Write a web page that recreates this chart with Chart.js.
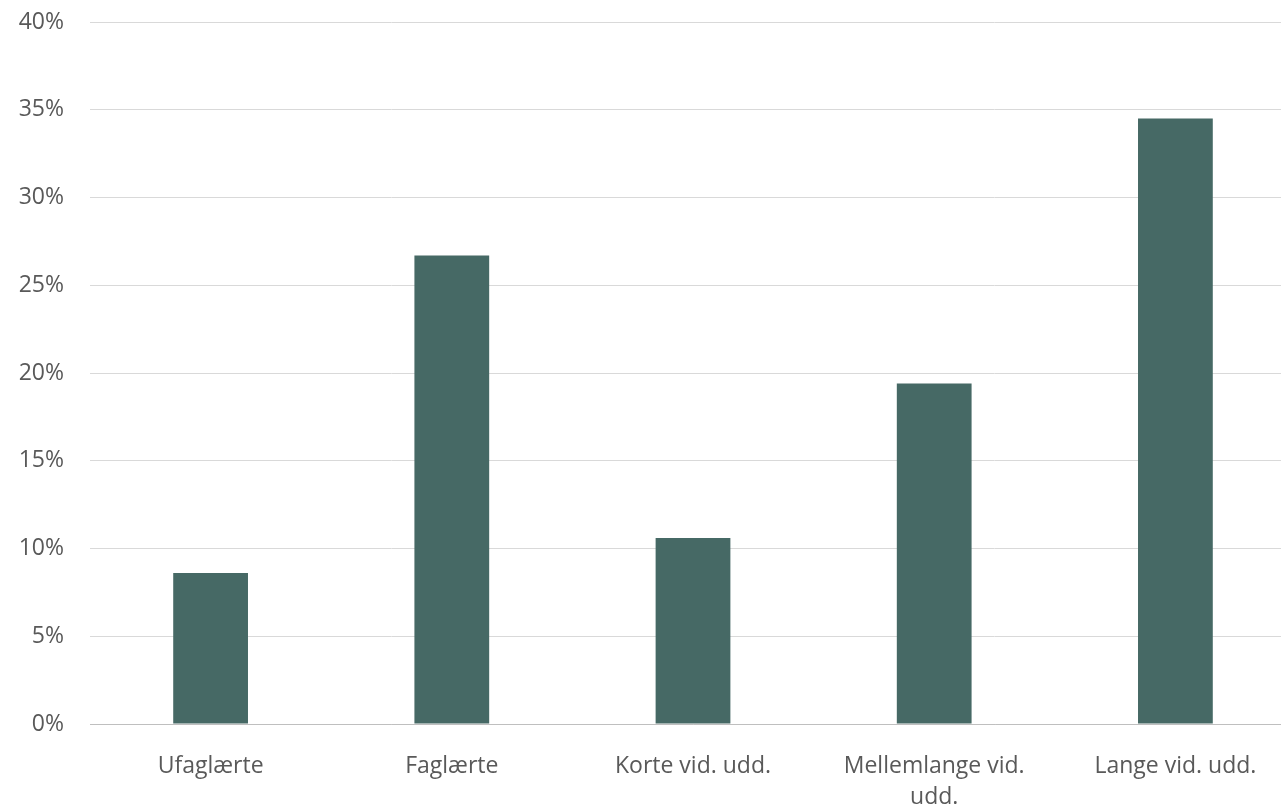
<!DOCTYPE html>
<html>
<head>
<meta charset="utf-8">
<script src="https://cdn.jsdelivr.net/npm/chart.js@4"></script>
<style>
  html, body { margin: 0; padding: 0; background: #fff; overflow: hidden; }
  #wrap { position: absolute; left: 0; top: 0; width: 1296px; height: 810px; }
</style>
</head>
<body>
<div id="wrap"><canvas id="myChart"></canvas></div>
<script>
// kategorier og andele (%)
var categories = ['Ufaglærte', 'Faglærte', 'Korte vid. udd.', ['Mellemlange vid.', 'udd.'], 'Lange vid. udd.'];
var shares = [8.6, 26.7, 10.6, 19.4, 34.5];
var yTicks = [0, 5, 10, 15, 20, 25, 30, 35, 40];

var textColor = '#595959';
var font = { family: '"Open Sans", "Noto Sans", sans-serif', size: 23, lineHeight: 1.36 };

var ctx = document.getElementById('myChart').getContext('2d');
var chart = new Chart(ctx, {
    type: 'bar',
    data: {
        labels: categories,
        datasets: [{
            label: 'Andel',
            backgroundColor: '#466965',
            borderWidth: 0,
            data: shares,
            barPercentage: 1,
            categoryPercentage: 0.31
        }]
    },
    options: {
        responsive: true,
        maintainAspectRatio: false,
        animation: false,
        layout: { padding: 0 },
        plugins: {
            legend: { display: false },
            tooltip: { enabled: false }
        },
        scales: {
            x: {
                afterFit: function(scale) { scale.height = 86; },
                grid: { display: false },
                border: { color: '#bfbfbf', width: 1 },
                ticks: { color: textColor, font: font, padding: 19, maxRotation: 0 }
            },
            y: {
                min: 0,
                max: 40,
                afterBuildTicks: function(scale) {
                    scale.ticks = yTicks.map(function(v) { return { value: v }; });
                },
                afterFit: function(scale) {
                    scale.width = 90;
                    scale.paddingTop = 22;
                    scale.paddingBottom = 0;
                },
                grid: { color: '#d9d9d9', drawTicks: false },
                border: { display: false },
                ticks: {
                    color: textColor,
                    font: font,
                    padding: 26,
                    callback: function(v) { return v + '%'; }
                }
            }
        }
    }
});
</script>
</body>
</html>
